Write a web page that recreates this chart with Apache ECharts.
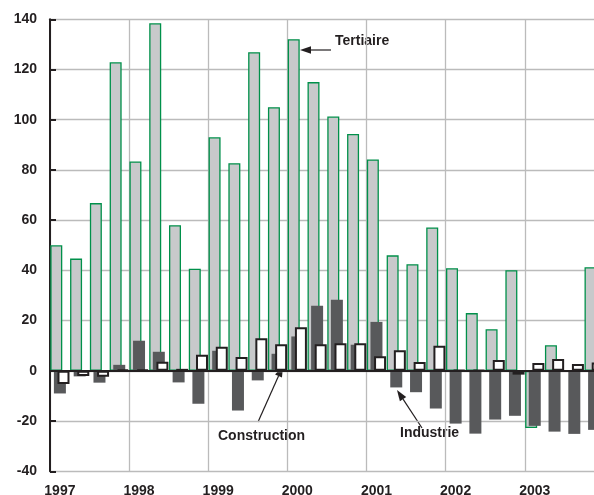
<!DOCTYPE html>
<html>
<head>
<meta charset="utf-8">
<script src="https://cdn.jsdelivr.net/npm/echarts@6/dist/echarts.min.js"></script>
<style>
html,body{margin:0;padding:0;background:#fff;}
#chart{width:594px;height:495px;}
</style>
</head>
<body>
<div id="chart"></div>
<script>
var years = ['1997','1998','1999','2000','2001','2002','2003'];
var quarters = [];
years.forEach(function(y){ for (var q = 1; q <= 4; q++) quarters.push(y + ' T' + q); });

var tertiaire = [50, 44.7, 66.8, 122.9, 83.4, 138.4, 58.0, 40.7, 93.0, 82.7, 126.9, 105.0, 132.1, 115.0,
                 101.3, 94.3, 84.2, 46.0, 42.5, 57.1, 40.9, 23.0, 16.6, 40.1, -22.8, 10.2, null, 41.3];
var industrie = [-9.0, -2.2, -4.7, 2.4, 12.0, 7.6, -4.6, -13.1, 8.0, -15.8, -3.8, 6.8, 13.7, 25.9,
                 28.3, 10.4, 19.5, -6.6, -8.5, -15.0, -21.0, -25.0, -19.4, -17.9, -21.9, -24.2, -25.1, -23.5];
var construction = [-5.2, -2.0, -2.3, 0.5, 0.4, 3.6, 0.8, 6.4, 9.6, 5.5, 13.0, 10.6, 17.4, 10.6,
                    11.0, 11.0, 5.8, 8.2, 3.5, 10.0, 0.3, 0.3, 4.3, -1.5, 3.1, 4.7, 2.7, 3.3];

var font = "'Liberation Sans', Arial, sans-serif";
var ink = '#231f20';
var gridColor = '#bbbbbb';

function firstQuarter(i){ return i % 4 === 0; }

// arrow from tail (x1,y1) to tip (x2,y2)
function arrow(x1, y1, x2, y2){
    var dx = x2 - x1, dy = y2 - y1, len = Math.sqrt(dx*dx + dy*dy);
    var ux = dx/len, uy = dy/len, hl = 11, hw = 3.8;
    var bx = x2 - ux*hl, by = y2 - uy*hl;
    return [
        {type:'line', shape:{x1:x1, y1:y1, x2:bx, y2:by}, style:{stroke:ink, lineWidth:1.2}},
        {type:'polygon', shape:{points:[[x2, y2], [bx - uy*hw, by + ux*hw], [bx + uy*hw, by - ux*hw]]}, style:{fill:ink}}
    ];
}
function label(txt, x, y){
    return {type:'text', x:x, y:y, style:{text:txt, fill:ink, font:'bold 14px ' + font, verticalAlign:'middle'}};
}

var chart = echarts.init(document.getElementById('chart'));
chart.setOption({
    animation: false,
    backgroundColor: '#fff',
    grid: {left: 50, top: 19.3, width: 554, height: 452, outerBoundsMode: 'none', containLabel: false},
    xAxis: [
        {
            type: 'category', data: quarters, position: 'bottom', z: 5,
            axisLine: {onZero: true, lineStyle: {color: ink, width: 2}},
            axisTick: {interval: firstQuarter, length: 5, lineStyle: {color: ink, width: 2}},
            axisLabel: {show: false},
            splitLine: {show: false}
        },
        {
            type: 'category', data: quarters, position: 'bottom',
            axisLine: {show: false, onZero: false},
            axisTick: {show: false},
            axisLabel: {interval: firstQuarter, formatter: function(v){ return v.slice(0, 4); },
                        color: ink, fontWeight: 'bold', fontSize: 14, fontFamily: font, margin: 13},
            splitLine: {show: true, interval: firstQuarter, lineStyle: {color: gridColor, width: 1.3}}
        }
    ],
    yAxis: {
        type: 'value', min: -40, max: 140, interval: 20,
        axisLine: {show: true, onZero: false, lineStyle: {color: ink, width: 2}},
        axisTick: {show: true, inside: true, length: 6, lineStyle: {color: ink, width: 2}},
        axisLabel: {color: ink, fontWeight: 'bold', fontSize: 14, fontFamily: font, margin: 13},
        splitLine: {lineStyle: {color: gridColor, width: 1.3}}
    },
    series: [
        {
            name: 'Tertiaire', type: 'bar', data: tertiaire, barWidth: 12, barGap: '-70%',
            itemStyle: {color: '#c8c9cb', borderColor: '#00904a', borderWidth: 1.3}
        },
        {
            name: 'Industrie', type: 'bar', data: industrie, barWidth: 12, barGap: '-70%',
            itemStyle: {color: '#58595b'}
        },
        {
            name: 'Construction', type: 'bar', data: construction, barWidth: 12, barGap: '-70%',
            itemStyle: {color: '#ffffff', borderColor: ink, borderWidth: 2}
        }
    ],
    graphic: [].concat(
        [label('Tertiaire', 335, 41)],
        arrow(331, 50, 300, 50),
        [label('Construction', 218, 436)],
        arrow(258, 422, 283, 366),
        [label('Industrie', 400, 433)],
        arrow(422, 428, 397, 390)
    )
});
</script>
</body>
</html>
